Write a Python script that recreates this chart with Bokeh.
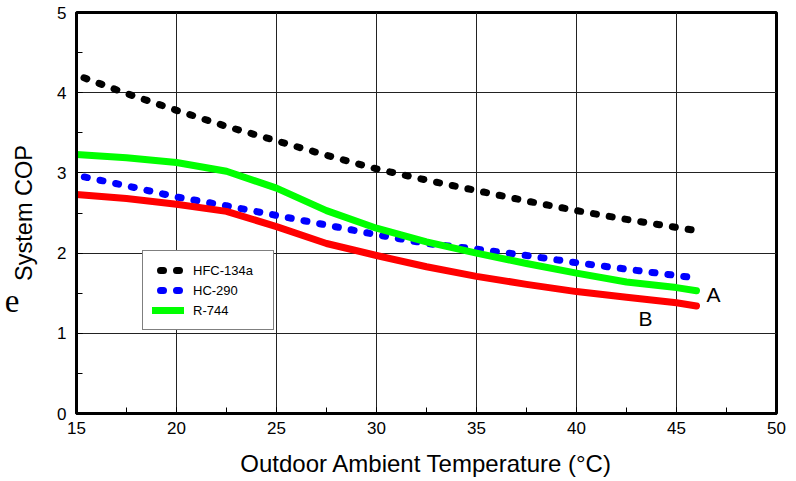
from bokeh.plotting import figure
from bokeh.models import (Range1d, SingleIntervalTicker, FixedTicker, LinearAxis,
                          Legend, LegendItem, Label)
from bokeh.embed import file_html
from bokeh.resources import INLINE

# Outdoor ambient temperature (°C) and system COP for each refrigerant
temp = [15, 17.5, 20, 22.5, 25, 27.5, 30, 32.5, 35, 37.5, 40, 42.5, 45, 46]
hfc134a = [4.22, 3.99, 3.78, 3.58, 3.40, 3.22, 3.05, 2.91, 2.78, 2.65, 2.53, 2.42, 2.32, 2.28]
hc290 = [2.97, 2.84, 2.70, 2.59, 2.47, 2.35, 2.23, 2.12, 2.05, 1.97, 1.88, 1.80, 1.72, 1.69]
r744_a = [3.23, 3.19, 3.13, 3.02, 2.81, 2.53, 2.31, 2.14, 2.00, 1.87, 1.75, 1.64, 1.57, 1.53]
r744_b = [2.73, 2.68, 2.61, 2.52, 2.33, 2.12, 1.97, 1.83, 1.71, 1.61, 1.52, 1.45, 1.38, 1.34]

FONT = "Liberation Sans"

p = figure(width=796, height=481, output_backend="svg", toolbar_location=None,
           x_range=Range1d(15, 50), y_range=Range1d(0, 5),
           min_border_left=76, min_border_right=20, min_border_top=12, min_border_bottom=68,
           x_axis_label="Outdoor Ambient Temperature (°C)", y_axis_label="System COP")

p.background_fill_color = "white"
p.border_fill_color = "white"
p.outline_line_color = "black"
p.outline_line_width = 3

p.xaxis.ticker = SingleIntervalTicker(interval=5, num_minor_ticks=2)
p.yaxis.ticker = SingleIntervalTicker(interval=1, num_minor_ticks=2)

for ax in (p.xaxis[0], p.yaxis[0]):
    ax.axis_line_width = 3
    ax.axis_line_color = "black"
    ax.major_tick_in = 6
    ax.major_tick_out = 0
    ax.minor_tick_in = 6
    ax.minor_tick_out = 0
    ax.major_tick_line_color = "black"
    ax.minor_tick_line_color = "black"
    ax.major_label_text_font = FONT
    ax.major_label_text_font_size = "17px"
    ax.major_label_text_color = "black"
    ax.axis_label_text_font = FONT
    ax.axis_label_text_font_style = "normal"
    ax.axis_label_text_color = "black"

p.xaxis.axis_label_text_font_size = "24px"
p.yaxis.axis_label_text_font_size = "23.5px"
p.xaxis.major_label_standoff = 8
p.yaxis.major_label_standoff = 10
p.xaxis.axis_label_standoff = 13
p.yaxis.axis_label_standoff = 17

# stray serif letter in the left margin, carried by a bare outer axis
e_axis = LinearAxis(ticker=FixedTicker(ticks=[1.4]), major_label_overrides={1.4: "e"},
                    axis_line_color=None, major_tick_line_color=None,
                    minor_tick_line_color=None, major_tick_in=0, major_tick_out=0,
                    major_label_standoff=-11,
                    major_label_text_font="Liberation Serif",
                    major_label_text_font_size="33px",
                    major_label_text_color="black")
p.add_layout(e_axis, "left")

p.grid.grid_line_color = "#222222"
p.grid.grid_line_width = 1

r_hfc = p.line(temp, hfc134a, line_color="black", line_width=7,
               line_dash="3 13", line_dash_offset=8, line_cap="round", line_join="round")
r_hc = p.line(temp, hc290, line_color="#0000ff", line_width=7,
              line_dash="3 13", line_dash_offset=8, line_cap="round", line_join="round")
r_a = p.line(temp, r744_a, line_color="#00ff00", line_width=7,
             line_cap="round", line_join="round")
r_b = p.line(temp, r744_b, line_color="#ff0000", line_width=7,
             line_cap="round", line_join="round")

legend = Legend(items=[LegendItem(label="HFC-134a", renderers=[r_hfc]),
                       LegendItem(label="HC-290", renderers=[r_hc]),
                       LegendItem(label="R-744", renderers=[r_a])],
                location=(66, 83), orientation="vertical",
                padding=9, margin=0, spacing=0,
                glyph_width=32, glyph_height=20, label_height=20, label_width=71,
                label_standoff=9,
                label_text_font=FONT, label_text_font_size="13px",
                label_text_color="black",
                border_line_color="black", border_line_width=1,
                background_fill_color="white", background_fill_alpha=1)
p.add_layout(legend, "center")

p.add_layout(Label(x=46.5, y=1.49, text="A", text_font=FONT, text_font_size="21px",
                   text_color="black", text_baseline="alphabetic"))
p.add_layout(Label(x=43.1, y=1.19, text="B", text_font=FONT, text_font_size="21px",
                   text_color="black", text_baseline="alphabetic"))

open("out.html", "w").write(file_html(p, INLINE))
